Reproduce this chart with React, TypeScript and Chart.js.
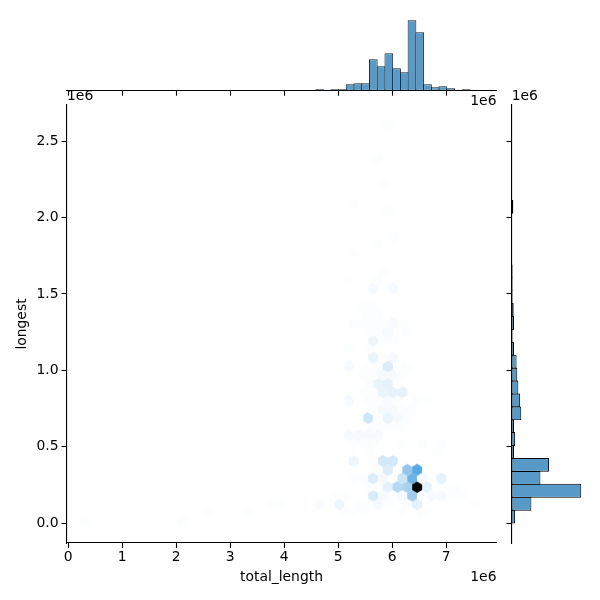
import React, { useEffect, useRef } from "react";
import { Chart, registerables } from "chart.js";

Chart.register(...registerables);

// Lengths and counts in the chart's own units (total_length, longest in 1e6)
const xTicksMax = 7;
const hexX = [
  0.31, 2.129,
  2.58, 3.302, 5.106, 5.286, 5.467, 6.188, 6.549,
  3.753, 3.933, 4.655, 5.016, 5.377, 5.557, 5.737, 5.918, 6.279, 6.459, 7.541,
  4.926, 5.106, 5.647, 5.828, 6.008, 6.188, 6.369, 6.549, 6.73, 6.91, 7.09, 7.271,
  5.557, 5.737, 5.918, 6.098, 6.279, 6.639, 6.82, 7.0, 7.181, 6.459,
  5.286, 5.467, 5.647, 5.828, 6.188, 6.369, 6.549, 6.91,
  5.737, 5.918, 6.279, 6.459,
  5.286, 5.647, 5.828, 6.008,
  5.557, 6.82,
  5.286, 5.467, 5.647, 6.188, 6.549, 6.91,
  5.196, 5.377, 5.557, 5.737,
  5.647, 5.828, 6.008, 6.188,
  5.557, 5.737, 5.918, 6.098, 6.279,
  5.647, 5.828, 6.008, 6.188, 6.369,
  5.196, 5.557, 5.737, 5.918, 6.098, 6.459, 6.639,
  5.467, 5.647, 5.828, 6.008, 6.188,
  5.557, 5.737, 5.918, 6.098,
  5.467, 5.647, 5.828, 6.008, 6.188,
  5.196, 5.557, 5.737, 5.918, 6.279,
  5.647, 5.828, 6.008,
  5.196, 5.557,
  5.647, 5.828, 6.008,
  5.557, 5.737, 5.918, 6.279,
  5.286, 5.467, 5.647, 5.828, 6.008, 6.188,
  5.557, 5.737,
  5.467, 5.647,
  5.647, 6.008,
  5.196, 5.737,
  5.828, 5.286, 5.737, 6.008, 5.918, 5.286, 5.828, 5.737, 5.918,
];
const hexY = [
  0.012, 0.012,
  0.069, 0.069, 0.069, 0.069, 0.069, 0.069, 0.069,
  0.125, 0.125, 0.125, 0.125, 0.125, 0.125, 0.125, 0.125, 0.125, 0.125, 0.125,
  0.181, 0.181, 0.181, 0.181, 0.181, 0.181, 0.181, 0.181, 0.181, 0.181, 0.181, 0.181,
  0.238, 0.238, 0.238, 0.238, 0.238, 0.238, 0.238, 0.238, 0.238, 0.238,
  0.294, 0.294, 0.294, 0.294, 0.294, 0.294, 0.294, 0.294,
  0.35, 0.35, 0.35, 0.35,
  0.407, 0.407, 0.407, 0.407,
  0.463, 0.463,
  0.52, 0.52, 0.52, 0.52, 0.52, 0.52,
  0.576, 0.576, 0.576, 0.576,
  0.632, 0.632, 0.632, 0.632,
  0.689, 0.689, 0.689, 0.689, 0.689,
  0.745, 0.745, 0.745, 0.745, 0.745,
  0.802, 0.802, 0.802, 0.802, 0.802, 0.802, 0.802,
  0.858, 0.858, 0.858, 0.858, 0.858,
  0.914, 0.914, 0.914, 0.914,
  0.971, 0.971, 0.971, 0.971, 0.971,
  1.027, 1.027, 1.027, 1.027, 1.027,
  1.084, 1.084, 1.084,
  1.14, 1.14,
  1.196, 1.196, 1.196,
  1.253, 1.253, 1.253, 1.253,
  1.309, 1.309, 1.309, 1.309, 1.309, 1.309,
  1.366, 1.366,
  1.422, 1.422,
  1.535, 1.535,
  1.591, 1.591,
  1.648, 1.76, 1.817, 1.873, 2.042, 2.099, 2.212, 2.381, 2.606,
];
const hexCount = [
  1, 1,
  1, 1, 1, 1, 1, 1, 1,
  1, 1, 2, 4, 1, 1, 2, 1, 1, 6, 1,
  1, 1, 9, 2, 1, 2, 22, 1, 2, 2, 1, 1,
  1, 1, 6, 17, 20, 6, 1, 1, 1, 100,
  1, 1, 8, 2, 12, 34, 2, 6,
  1, 8, 25, 38,
  4, 1, 10, 10,
  1, 1,
  1, 1, 1, 1, 1, 1,
  2, 2, 2, 2,
  1, 1, 1, 1,
  11, 1, 5, 2, 1,
  1, 2, 2, 1, 1,
  2, 1, 1, 2, 1, 1, 1,
  1, 1, 5, 6, 6,
  1, 5, 6, 1,
  1, 1, 2, 2, 1,
  2, 1, 1, 8, 1,
  5, 1, 2,
  1, 1,
  4, 1, 1,
  1, 1, 2, 1,
  1, 1, 1, 1, 2, 1,
  1, 1,
  1, 1,
  2, 2,
  1, 1,
  1, 1, 1, 1, 1, 1, 1, 1, 1,
];
const topBinCenters = [4.654, 4.934, 5.077, 5.22, 5.363, 5.506, 5.649, 5.793, 5.936, 6.079, 6.222, 6.365, 6.509, 6.652, 6.795, 6.938, 7.081, 7.367];
const topBinCounts = [3, 3, 3, 13, 15, 15, 63, 49, 75, 45, 37, 141, 117, 13, 7, 9, 5, 3];
const rightBinCenters = [0.044, 0.128, 0.213, 0.297, 0.382, 0.466, 0.551, 0.635, 0.719, 0.804, 0.888, 0.972, 1.057, 1.141, 1.226, 1.31, 1.395, 1.479, 1.564, 1.648, 2.07, 2.154, 2.407, 2.576];
const rightBinCounts = [10, 55, 193, 80, 104, 7, 10, 7, 27, 24, 19, 16, 14, 7, 3, 7, 6, 3, 3, 3, 5, 1, 1, 1];
const hexMaxCount = 100;
const xLabel = "total_length";
const yLabel = "longest";
const offsetLabel = "1e6";

const FONT = "'DejaVu Sans'";
const FS = 13.9;
const X_MIN = -0.033, X_MAX = 7.93, Y_MIN = -0.129, Y_MAX = 2.736;
const BAR = "#5799c7", EDGE = "#17232c";

const hexCache = new Map<number, HTMLCanvasElement>();
function hexSprite(count: number) {
  let c = hexCache.get(count);
  if (c) return c;
  c = document.createElement("canvas");
  c.width = 12; c.height = 14;
  const g = c.getContext("2d")!;
  const l = 100 * (1 - count / hexMaxCount);
  g.fillStyle = `hsl(205.4 70.7% ${l}%)`;
  const hw = 5, r = 5.9, cx = 6, cy = 7;
  g.beginPath();
  g.moveTo(cx, cy - r);
  g.lineTo(cx + hw, cy - r / 2);
  g.lineTo(cx + hw, cy + r / 2);
  g.lineTo(cx, cy + r);
  g.lineTo(cx - hw, cy + r / 2);
  g.lineTo(cx - hw, cy - r / 2);
  g.closePath();
  g.fill();
  hexCache.set(count, c);
  return c;
}

type T = { x: number; y: number; align: CanvasTextAlign };
const textPlugin = (items: T[]) => ({
  id: "offsetText",
  afterDraw(chart: any) {
    const ctx = chart.ctx;
    ctx.save();
    ctx.font = `${FS}px ${FONT}`;
    ctx.fillStyle = "#000";
    ctx.textBaseline = "middle";
    for (const t of items) {
      ctx.textAlign = t.align;
      ctx.fillText(offsetLabel, t.x, t.y);
    }
    ctx.restore();
  },
});

const axisStyle = {
  border: { display: true, color: "#000", width: 1.1 },
  grid: { drawOnChartArea: false, drawTicks: true, tickLength: 5, tickColor: "#000", tickWidth: 1.1, offset: false },
};
const baseOpts = {
  responsive: false,
  animation: false as const,
  devicePixelRatio: 1,
  plugins: { legend: { display: false }, title: { display: false }, tooltip: { enabled: false } },
};

export default function App() {
  const main = useRef<HTMLCanvasElement>(null);
  const top = useRef<HTMLCanvasElement>(null);
  const right = useRef<HTMLCanvasElement>(null);

  useEffect(() => {
    const charts: Chart[] = [];
    charts.push(new Chart(main.current!, {
      type: "scatter",
      data: {
        datasets: [{
          data: hexX.map((x, i) => ({ x, y: hexY[i] })),
          pointStyle: (c: any) => hexSprite(hexCount[c.dataIndex]),
          pointRadius: 6,
        } as any],
      },
      options: {
        ...baseOpts,
        layout: { padding: { left: 0, right: 103.5, top: 105, bottom: 0 } },
        scales: {
          x: {
            type: "linear", min: X_MIN, max: X_MAX, ...axisStyle,
            afterFit: (s: any) => { s.height = 57; },
            ticks: {
              stepSize: 1, includeBounds: false, autoSkip: false, maxRotation: 0, padding: 1,
              color: "#000", font: { family: FONT, size: FS },
              callback: (v: any) => (v >= 0 && v <= xTicksMax ? String(v) : ""),
            },
            title: { display: true, text: xLabel, color: "#000", font: { family: FONT, size: FS }, padding: { top: 0, bottom: 14 } },
          },
          y: {
            type: "linear", min: Y_MIN, max: Y_MAX, ...axisStyle,
            afterFit: (s: any) => { s.width = 66.5; },
            ticks: {
              stepSize: 0.5, includeBounds: false, autoSkip: false, padding: 3,
              color: "#000", font: { family: FONT, size: FS },
              callback: (v: any) => Number(v).toFixed(1),
            },
            title: { display: true, text: yLabel, color: "#000", font: { family: FONT, size: FS }, padding: { top: 14, bottom: 0 } },
          },
        },
      } as any,
      plugins: [textPlugin([
        { x: 67, y: 96, align: "left" },
        { x: 496.5, y: 577, align: "right" },
      ])],
    }));

    charts.push(new Chart(top.current!, {
      type: "bar",
      data: {
        datasets: [{
          data: topBinCenters.map((x, i) => ({ x, y: topBinCounts[i] })),
          backgroundColor: BAR, borderColor: EDGE, borderWidth: 1, borderSkipped: false,
          barPercentage: 1.13, categoryPercentage: 1,
        } as any],
      },
      options: {
        ...baseOpts,
        layout: { padding: { left: 66.5, right: 103.5, top: 15.7, bottom: 0 } },
        scales: {
          x: {
            type: "linear", min: X_MIN, max: X_MAX, offset: false, ...axisStyle,
            afterFit: (s: any) => { s.height = 509.3; },
            ticks: { display: false, stepSize: 1, includeBounds: false, autoSkip: false },
          },
          y: { type: "linear", display: false, min: 0, max: 150 },
        },
      } as any,
      plugins: [textPlugin([{ x: 496.5, y: 101, align: "right" }])],
    }));

    charts.push(new Chart(right.current!, {
      type: "bar",
      data: {
        datasets: [{
          data: rightBinCenters.map((y, i) => ({ y, x: rightBinCounts[i] })),
          backgroundColor: BAR, borderColor: "#000", borderWidth: 1, borderSkipped: false,
          barPercentage: 1.078, categoryPercentage: 1,
        } as any],
      },
      options: {
        ...baseOpts,
        indexAxis: "y",
        layout: { padding: { left: 511.5, right: 15.5, top: 105, bottom: 57 } },
        scales: {
          x: { type: "linear", display: false, min: 0, max: 202 },
          y: {
            type: "linear", min: Y_MIN, max: Y_MAX, offset: false, ...axisStyle,
            afterFit: (s: any) => { s.width = 0; },
            ticks: { display: false, stepSize: 0.5, includeBounds: false, autoSkip: false },
          },
        },
      } as any,
      plugins: [textPlugin([{ x: 511.7, y: 96, align: "left" }])],
    }));
    return () => charts.forEach((c) => c.destroy());
  }, []);

  const st: React.CSSProperties = { position: "absolute", left: 0, top: 0, width: 600, height: 600 };
  return (
    <div style={{ position: "absolute", left: 0, top: 0, width: 600, height: 600, background: "#fff" }}>
      <canvas ref={main} width={600} height={600} style={st} />
      <canvas ref={top} width={600} height={600} style={st} />
      <canvas ref={right} width={600} height={600} style={st} />
    </div>
  );
}
